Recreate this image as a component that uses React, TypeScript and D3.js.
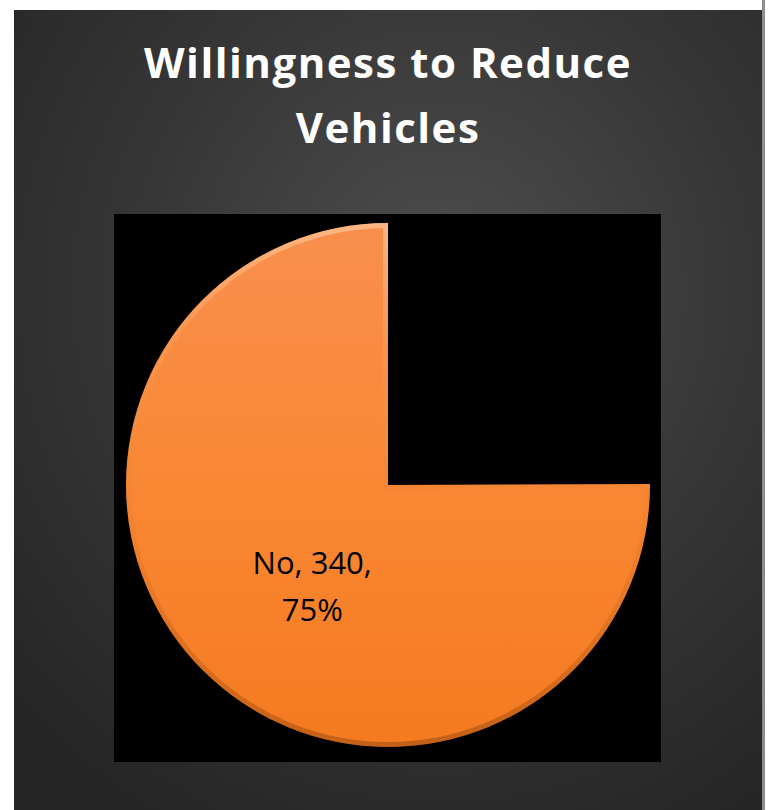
import React from "react";
import * as d3 from "d3";

const categories = ["Yes", "No"];
const values = [113, 340];
const percents = ["25%", "75%"];
const titleLines = ["Willingness to Reduce", "Vehicles"];

const W = 769;
const H = 810;

export default function App() {
  const cx = 388;
  const cy = 485;
  const r = 262;

  const pie = d3.pie<number>().sort(null).value((d) => d)(values);
  const arc = d3.arc<d3.PieArcDatum<number>>().innerRadius(0).outerRadius(r);
  const labelArc = d3.arc<d3.PieArcDatum<number>>().innerRadius(r * 0.48).outerRadius(r * 0.48);

  const noIdx = categories.indexOf("No");
  const noSlice = pie[noIdx];
  const noPath = arc(noSlice) || "";
  const [lx, ly] = labelArc.centroid(noSlice);

  return (
    <svg
      width={W}
      height={H}
      style={{ position: "absolute", left: 0, top: 0, background: "#ffffff" }}
    >
      <defs>
        <radialGradient id="bg" cx="0.57" cy="0.35" r="0.75" fx="0.57" fy="0.35">
          <stop offset="0" stopColor="#4e4e4e" />
          <stop offset="0.55" stopColor="#363636" />
          <stop offset="1" stopColor="#262626" />
        </radialGradient>
        <linearGradient id="orange" x1="0" y1="0" x2="0" y2="1">
          <stop offset="0" stopColor="#f98f4e" />
          <stop offset="0.45" stopColor="#f98936" />
          <stop offset="1" stopColor="#f57a20" />
        </linearGradient>
        <linearGradient id="bevel" gradientUnits="userSpaceOnUse" x1="0" y1={-r} x2="0" y2={r}>
          <stop offset="0" stopColor="#ffd2a8" stopOpacity="0.6" />
          <stop offset="0.25" stopColor="#ffc08a" stopOpacity="0.12" />
          <stop offset="0.6" stopColor="#b85a14" stopOpacity="0.1" />
          <stop offset="1" stopColor="#9a4a10" stopOpacity="0.55" />
        </linearGradient>
        <clipPath id="sliceClip">
          <path d={noPath} transform={`translate(${cx},${cy})`} />
        </clipPath>
      </defs>

      <rect x={14} y={10} width={748} height={800} fill="url(#bg)" />
      <rect x={762} y={0} width={3} height={H} fill="#8c8c8c" />

      <text
        x={388}
        fill="#ffffff"
        fontFamily="'Open Sans', 'Noto Sans', sans-serif"
        fontWeight={700}
        fontSize={42}
        textAnchor="middle"
        letterSpacing={1.5}
      >
        <tspan x={388} y={78}>{titleLines[0]}</tspan>
        <tspan x={388} y={143}>{titleLines[1]}</tspan>
      </text>

      <rect x={114} y={214} width={547} height={548} fill="#000000" />

      <g transform={`translate(${cx},${cy})`}>
        {pie.map((p, i) =>
          categories[i] === "No" ? (
            <path key={i} d={arc(p) || ""} fill="url(#orange)" />
          ) : (
            <path key={i} d={arc(p) || ""} fill="#000000" />
          )
        )}
      </g>
      <g clipPath="url(#sliceClip)">
        <path
          d={noPath}
          transform={`translate(${cx},${cy})`}
          fill="none"
          stroke="url(#bevel)"
          strokeWidth={10}
        />
      </g>

      <text
        fontFamily="'Open Sans', 'Noto Sans', sans-serif"
        fontSize={31}
        fill="#000000"
        textAnchor="middle"
      >
        <tspan x={cx + lx + 13} y={cy + ly}>
          {`${categories[noIdx]}, ${values[noIdx]},`}
        </tspan>
        <tspan x={cx + lx + 13} y={cy + ly + 47}>
          {percents[noIdx]}
        </tspan>
      </text>
    </svg>
  );
}
